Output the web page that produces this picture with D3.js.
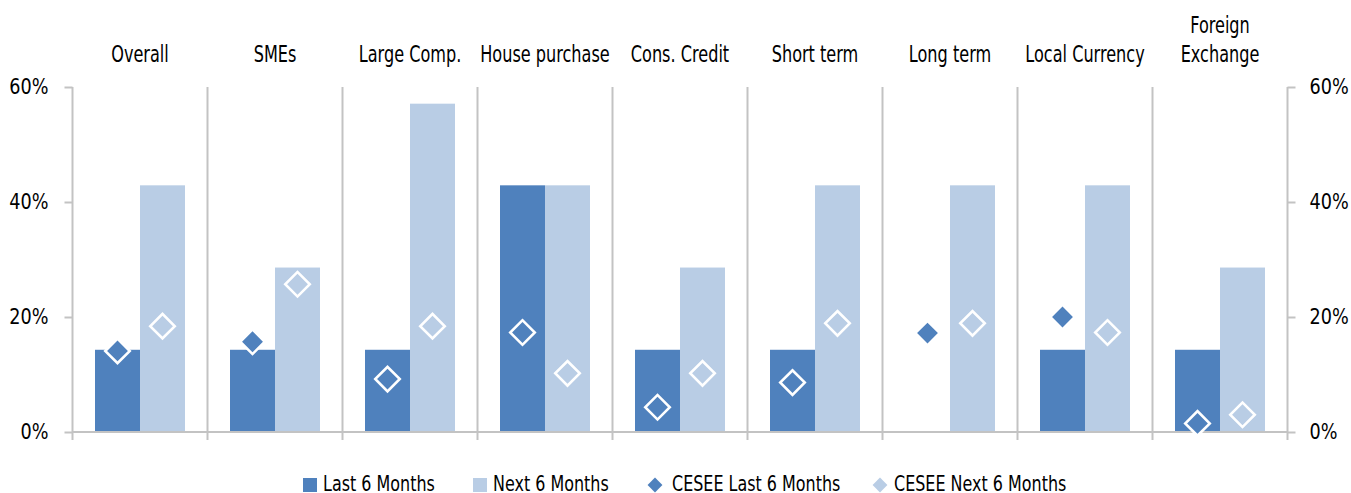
<!DOCTYPE html>
<html>
<head>
<meta charset="utf-8">
<script src="https://cdn.jsdelivr.net/npm/d3@7"></script>
<style>
  body { margin: 0; background: #fff; }
  text { font-family: "DejaVu Sans", sans-serif; fill: #000; }
</style>
</head>
<body>
<script>
// data
let categories = ["Overall", "SMEs", "Large Comp.", "House purchase", "Cons. Credit", "Short term", "Long term", "Local Currency", "Foreign\nExchange"];
let last6 = [14.3, 14.3, 14.3, 42.9, 14.3, 14.3, 0, 14.3, 14.3];
let next6 = [42.9, 28.6, 57.1, 42.9, 28.6, 42.9, 42.9, 42.9, 28.6];
let ceseeLast = [14.1, 15.7, 9.2, 17.3, 4.3, 8.6, 17.2, 20.0, 1.5];
let ceseeNext = [18.4, 25.7, 18.4, 10.2, 10.2, 18.9, 18.9, 17.3, 3.0];
let yTicks = [0, 20, 40, 60];
let seriesNames = ["Last 6 Months", "Next 6 Months", "CESEE Last 6 Months", "CESEE Next 6 Months"];

let w = 1351, h = 493;
let darkBlue = "#4f81bd", lightBlue = "#b9cde5", gridCol = "#c3c3c3";

// squeeze text to look like the narrow font of the original
function narrow(sel, k) {
    sel.each(function () {
        let len = this.getComputedTextLength();
        d3.select(this).attr("textLength", len * k).attr("lengthAdjust", "spacingAndGlyphs");
    });
}

const svg = d3.select("body").append("svg")
    .attr("width", w)
    .attr("height", h);

const xScale = d3.scaleBand()
    .domain(categories)
    .range([72.5, 1287.5]);

const xSub = d3.scaleBand()
    .domain(["last", "next"])
    .range([22.5, 112.5]);

const yScale = d3.scaleLinear()
    .domain([0, 60])
    .range([432, 87]);

// category separators (run from top of plot to below the x axis)
let bounds = categories.map(c => xScale(c)).concat([xScale.range()[1]]);
svg.append("g").selectAll("line")
    .data(bounds)
    .enter()
    .append("line")
    .attr("x1", d => d).attr("x2", d => d)
    .attr("y1", yScale(60)).attr("y2", yScale(0) + 8)
    .attr("stroke", gridCol)
    .attr("stroke-width", 2);

// y axes left & right
const yAxisL = d3.axisLeft(yScale).tickValues(yTicks).tickFormat(d => d + "%").tickSize(8).tickPadding(16);
const yAxisR = d3.axisRight(yScale).tickValues(yTicks).tickFormat(d => d + "%").tickSize(8).tickPadding(14);

svg.append("g")
    .attr("transform", "translate(72.5,0)")
    .call(yAxisL)
    .call(g => g.select(".domain").remove())
    .call(g => g.selectAll("line").attr("stroke", gridCol).attr("stroke-width", 2))
    .call(g => g.selectAll("text").style("font-size", "21px").attr("fill", "#000").call(narrow, 0.84));

svg.append("g")
    .attr("transform", "translate(1287.5,0)")
    .call(yAxisR)
    .call(g => g.select(".domain").remove())
    .call(g => g.selectAll("line").attr("stroke", gridCol).attr("stroke-width", 2))
    .call(g => g.selectAll("text").style("font-size", "21px").attr("fill", "#000").call(narrow, 0.84));

// bars
let barData = [];
categories.forEach((c, i) => {
    barData.push({ cat: c, key: "last", v: last6[i] });
    barData.push({ cat: c, key: "next", v: next6[i] });
});

svg.append("g").selectAll("rect")
    .data(barData)
    .enter()
    .append("rect")
    .attr("x", d => xScale(d.cat) + xSub(d.key))
    .attr("y", d => yScale(d.v))
    .attr("width", xSub.bandwidth())
    .attr("height", d => yScale(0) - yScale(d.v))
    .attr("fill", d => d.key == "last" ? darkBlue : lightBlue);

// x axis baseline
svg.append("line")
    .attr("x1", xScale.range()[0]).attr("x2", xScale.range()[1])
    .attr("y1", yScale(0)).attr("y2", yScale(0))
    .attr("stroke", gridCol)
    .attr("stroke-width", 2);

// CESEE diamonds
const diamond = d3.symbol().type(d3.symbolSquare).size(300);
let dotData = [];
categories.forEach((c, i) => {
    dotData.push({ cat: c, key: "last", v: ceseeLast[i] });
    dotData.push({ cat: c, key: "next", v: ceseeNext[i] });
});

svg.append("g").selectAll("path")
    .data(dotData)
    .enter()
    .append("path")
    .attr("d", diamond)
    .attr("transform", d => "translate(" + (xScale(d.cat) + xSub(d.key) + xSub.bandwidth() / 2) + "," + yScale(d.v) + ") rotate(45)")
    .attr("fill", d => d.key == "last" ? darkBlue : lightBlue)
    .attr("stroke", "#fff")
    .attr("stroke-width", 2.6);

// category labels on top
svg.append("g").selectAll("text")
    .data(categories)
    .enter()
    .append("text")
    .attr("x", d => xScale(d) + xScale.bandwidth() / 2)
    .attr("text-anchor", "middle")
    .style("font-size", "23px")
    .each(function (d) {
        let lines = d.split("\n");
        let t = d3.select(this);
        lines.forEach((l, j) => {
            t.append("tspan")
                .attr("x", xScale(d) + xScale.bandwidth() / 2)
                .attr("y", 62 - (lines.length - 1 - j) * 29)
                .text(l);
        });
    })
    .selectAll("tspan").call(narrow, 0.7);

// legend
let markX = [303, 473, 655, 880];
let textX = [323, 493, 672, 894];
let legend = svg.append("g");
seriesNames.forEach((name, i) => {
    let col = (i % 2 == 0) ? darkBlue : lightBlue;
    if (i < 2) {
        legend.append("rect")
            .attr("x", markX[i]).attr("y", 478)
            .attr("width", 14).attr("height", 14)
            .attr("fill", col);
    } else {
        legend.append("path")
            .attr("d", d3.symbol().type(d3.symbolSquare).size(110)())
            .attr("transform", "translate(" + markX[i] + ",485) rotate(45)")
            .attr("fill", col);
    }
    legend.append("text")
        .attr("x", textX[i])
        .attr("y", 491)
        .style("font-size", "22px")
        .text(name)
        .call(narrow, 0.725);
});
</script>
</body>
</html>
